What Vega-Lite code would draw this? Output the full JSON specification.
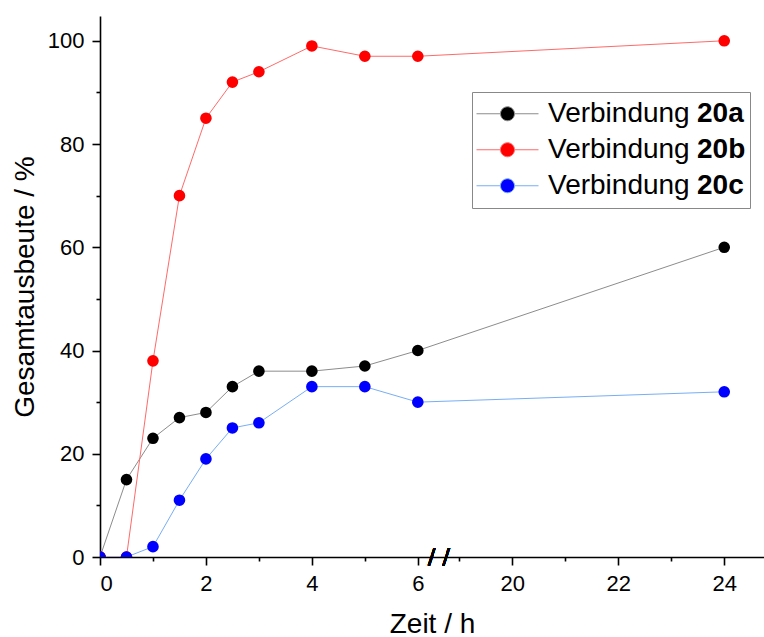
{
  "$schema": "https://vega.github.io/schema/vega-lite/v6.json",
  "width": 664,
  "height": 541,
  "autosize": "none",
  "padding": {"left": 100, "top": 16, "right": 0, "bottom": 80},
  "background": "white",
  "config": {
    "view": {"stroke": null},
    "font": "Liberation Sans",
    "axis": {
      "grid": false,
      "domainColor": "#000000",
      "domainWidth": 1.6,
      "tickColor": "#000000",
      "tickWidth": 1.6,
      "labelFont": "Liberation Sans",
      "labelFontSize": 22,
      "labelColor": "#000000",
      "labelPadding": 8,
      "titleFont": "Liberation Sans",
      "titleFontSize": 28,
      "titleFontWeight": "normal",
      "titleColor": "#000000"
    }
  },
  "data": {
    "values": [
      {"t": 0, "y": 0, "series": "20a", "nr": "20a"},
      {"t": 0.5, "y": 15, "series": "20a", "nr": "20a"},
      {"t": 1, "y": 23, "series": "20a", "nr": "20a"},
      {"t": 1.5, "y": 27, "series": "20a", "nr": "20a"},
      {"t": 2, "y": 28, "series": "20a", "nr": "20a"},
      {"t": 2.5, "y": 33, "series": "20a", "nr": "20a"},
      {"t": 3, "y": 36, "series": "20a", "nr": "20a"},
      {"t": 4, "y": 36, "series": "20a", "nr": "20a"},
      {"t": 5, "y": 37, "series": "20a", "nr": "20a"},
      {"t": 6, "y": 40, "series": "20a", "nr": "20a"},
      {"t": 24, "y": 60, "series": "20a", "nr": "20a"},
      {"t": 0, "y": 0, "series": "20b", "nr": "20b"},
      {"t": 0.5, "y": 0, "series": "20b", "nr": "20b"},
      {"t": 1, "y": 38, "series": "20b", "nr": "20b"},
      {"t": 1.5, "y": 70, "series": "20b", "nr": "20b"},
      {"t": 2, "y": 85, "series": "20b", "nr": "20b"},
      {"t": 2.5, "y": 92, "series": "20b", "nr": "20b"},
      {"t": 3, "y": 94, "series": "20b", "nr": "20b"},
      {"t": 4, "y": 99, "series": "20b", "nr": "20b"},
      {"t": 5, "y": 97, "series": "20b", "nr": "20b"},
      {"t": 6, "y": 97, "series": "20b", "nr": "20b"},
      {"t": 24, "y": 100, "series": "20b", "nr": "20b"},
      {"t": 0, "y": 0, "series": "20c", "nr": "20c"},
      {"t": 0.5, "y": 0, "series": "20c", "nr": "20c"},
      {"t": 1, "y": 2, "series": "20c", "nr": "20c"},
      {"t": 1.5, "y": 11, "series": "20c", "nr": "20c"},
      {"t": 2, "y": 19, "series": "20c", "nr": "20c"},
      {"t": 2.5, "y": 25, "series": "20c", "nr": "20c"},
      {"t": 3, "y": 26, "series": "20c", "nr": "20c"},
      {"t": 4, "y": 33, "series": "20c", "nr": "20c"},
      {"t": 5, "y": 33, "series": "20c", "nr": "20c"},
      {"t": 6, "y": 30, "series": "20c", "nr": "20c"},
      {"t": 24, "y": 32, "series": "20c", "nr": "20c"}
    ]
  },
  "encoding": {
    "x": {
      "field": "t",
      "type": "quantitative",
      "title": "Zeit / h",
      "scale": {"domain": [0, 6.4, 18.62, 24.75], "range": [0, 339, 339, 664], "nice": false, "zero": false},
      "axis": {
        "values": [0, 1, 2, 3, 4, 5, 6, 19, 20, 21, 22, 23, 24],
        "labelExpr": "datum.value % 2 === 0 ? datum.label : ''",
        "tickSize": {"condition": {"test": "datum.value % 2 === 1", "value": 4}, "value": 8},
        "titlePadding": 16
      }
    },
    "y": {
      "field": "y",
      "type": "quantitative",
      "title": "Gesamtausbeute / %",
      "scale": {"domain": [0, 104.8], "nice": false, "zero": false},
      "axis": {
        "values": [0, 10, 20, 30, 40, 50, 60, 70, 80, 90, 100],
        "labelExpr": "datum.value % 20 === 0 ? datum.label : ''",
        "tickSize": {"condition": {"test": "datum.value % 20 === 10", "value": 4}, "value": 8},
        "titlePadding": 8
      }
    }
  },
  "layer": [
    {
      "mark": {"type": "line", "strokeWidth": 1, "clip": true},
      "encoding": {
        "stroke": {
          "field": "series",
          "type": "nominal",
          "scale": {"domain": ["20a", "20b", "20c"], "range": ["#8c8c8c", "#ff6a6a", "#78aef5"]},
          "legend": {
            "orient": "none", "legendX": 372, "legendY": 76, "title": null, "zindex": 2,
            "padding": 4, "strokeColor": null, "fillColor": null,
            "symbolType": "M-1,0H-0.226M0.226,0H1M-0.226,0A0.226,0.226,0,1,1,0.226,0A0.226,0.226,0,1,1,-0.226,0Z",
            "symbolSize": 3844, "symbolStrokeWidth": 1, "clipHeight": 35.5, "rowPadding": 0,
            "labelOffset": 9, "labelFontSize": 28, "labelFont": "Liberation Sans", "labelColor": "#000000",
            "labelExpr": "'Verbindung'", "labelLimit": 400
          }
        }
      }
    },
    {
      "mark": {"type": "point", "filled": true, "size": 135, "opacity": 1, "clip": true},
      "encoding": {
        "fill": {
          "field": "series",
          "type": "nominal",
          "scale": {"domain": ["20a", "20b", "20c"], "range": ["#000000", "#ff0000", "#0000ff"]},
          "legend": {
            "orient": "none", "legendX": 372, "legendY": 76, "title": null, "zindex": 2,
            "padding": 4, "strokeColor": null, "fillColor": null,
            "symbolType": "M-1,0H-0.226M0.226,0H1M-0.226,0A0.226,0.226,0,1,1,0.226,0A0.226,0.226,0,1,1,-0.226,0Z",
            "symbolSize": 3844, "symbolStrokeWidth": 1, "clipHeight": 35.5, "rowPadding": 0,
            "labelOffset": 9, "labelFontSize": 28, "labelFont": "Liberation Sans", "labelColor": "#000000",
            "labelExpr": "'Verbindung'", "labelLimit": 400
          }
        },
        "shape": {
          "field": "nr",
          "type": "nominal",
          "scale": {"range": ["circle", "circle", "circle"]},
          "legend": {
            "orient": "none", "legendX": 372, "legendY": 76, "title": null, "zindex": 1,
            "padding": 4, "strokeColor": "#888888", "fillColor": "white",
            "symbolSize": 3844, "symbolOpacity": 0, "symbolStrokeWidth": 0, "clipHeight": 35.5, "rowPadding": 0,
            "labelOffset": 159, "labelFontSize": 28, "labelFont": "Liberation Sans", "labelFontWeight": "bold", "labelColor": "#000000"
          }
        }
      }
    },
    {
      "mark": {"type": "text", "text": "/ /", "fontSize": 22, "font": "DejaVu Sans", "clip": false, "color": "#000000", "baseline": "middle", "align": "center"},
      "encoding": {"x": {"datum": 6.4}, "y": {"datum": 0}}
    }
  ]
}
